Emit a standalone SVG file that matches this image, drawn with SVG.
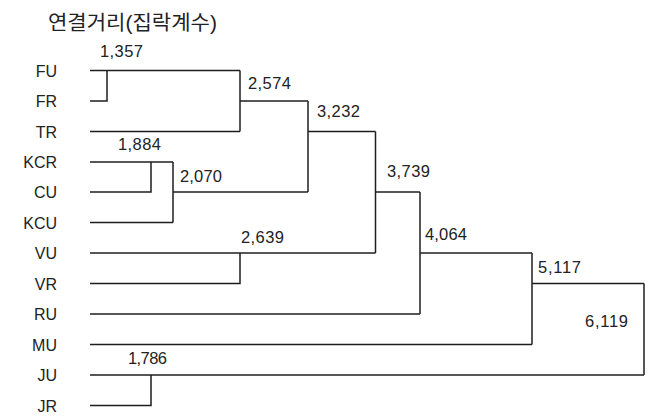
<svg xmlns="http://www.w3.org/2000/svg" width="649" height="416" viewBox="0 0 649 416">
<style>
.lbl{font-family:"Liberation Sans",Arial,sans-serif;font-size:16px;fill:#222;text-anchor:end}
.num{font-family:"Liberation Sans",Arial,sans-serif;font-size:16.5px;fill:#222}
.ttl{font-family:"Liberation Sans","Noto Sans CJK KR",sans-serif;font-size:20px;fill:#222}
.ln{fill:none;stroke:#1e1e1e;stroke-width:1.5}
</style>
<rect width="649" height="416" fill="#ffffff"/>
<text id="title" class="ttl" x="48" y="29.5" textLength="169" lengthAdjust="spacingAndGlyphs">연결거리(집락계수)</text>
<g id="FU"><text class="lbl" x="57" y="76.5">FU</text></g>
<g id="FR"><text class="lbl" x="57" y="107">FR</text></g>
<g id="TR"><text class="lbl" x="57" y="137.5">TR</text></g>
<g id="KCR"><text class="lbl" x="57" y="168">KCR</text></g>
<g id="CU"><text class="lbl" x="57" y="198">CU</text></g>
<g id="KCU"><text class="lbl" x="57" y="228.5">KCU</text></g>
<g id="VU"><text class="lbl" x="57" y="259">VU</text></g>
<g id="VR"><text class="lbl" x="57" y="289.5">VR</text></g>
<g id="RU"><text class="lbl" x="57" y="320">RU</text></g>
<g id="MU"><text class="lbl" x="57" y="350.5">MU</text></g>
<g id="JU"><text class="lbl" x="57" y="381">JU</text></g>
<g id="JR"><text class="lbl" x="57" y="411.5">JR</text></g>
<g id="connectors" class="ln">
<path d="M90 70.5H240"/>
<path d="M90 101H107V70.5"/>
<path d="M90 131.5H240"/>
<path d="M240 70.5V131.5"/>
<path d="M240 101H308"/>
<path d="M90 162H173"/>
<path d="M90 192H151V162"/>
<path d="M90 222.5H173"/>
<path d="M173 162V222.5"/>
<path d="M173 192H308"/>
<path d="M308 101V192"/>
<path d="M308 131.5H375.5"/>
<path d="M90 253H375.5"/>
<path d="M90 283.5H240V253"/>
<path d="M375.5 131.5V253"/>
<path d="M375.5 192H420"/>
<path d="M90 314H420"/>
<path d="M420 192V314"/>
<path d="M420 253H532"/>
<path d="M90 344.5H532"/>
<path d="M532 253V344.5"/>
<path d="M532 283.5H644"/>
<path d="M90 375H644"/>
<path d="M90 405.5H151V375"/>
<path d="M644 283.5V375"/>
</g>
<g id="distances">
<text class="num" x="100" y="57" textLength="43">1,357</text>
<text class="num" x="248" y="89" textLength="43">2,574</text>
<text class="num" x="118" y="150" textLength="43">1,884</text>
<text class="num" x="180" y="182" textLength="42">2,070</text>
<text class="num" x="317" y="117" textLength="43">3,232</text>
<text class="num" x="387" y="177" textLength="43">3,739</text>
<text class="num" x="241" y="243" textLength="43">2,639</text>
<text class="num" x="425" y="240" textLength="42">4,064</text>
<text class="num" x="538" y="272.5" textLength="43">5,117</text>
<text class="num" x="585" y="326.5" textLength="43">6,119</text>
<text class="num" x="128" y="364" textLength="39">1,786</text>
</g>
</svg>
